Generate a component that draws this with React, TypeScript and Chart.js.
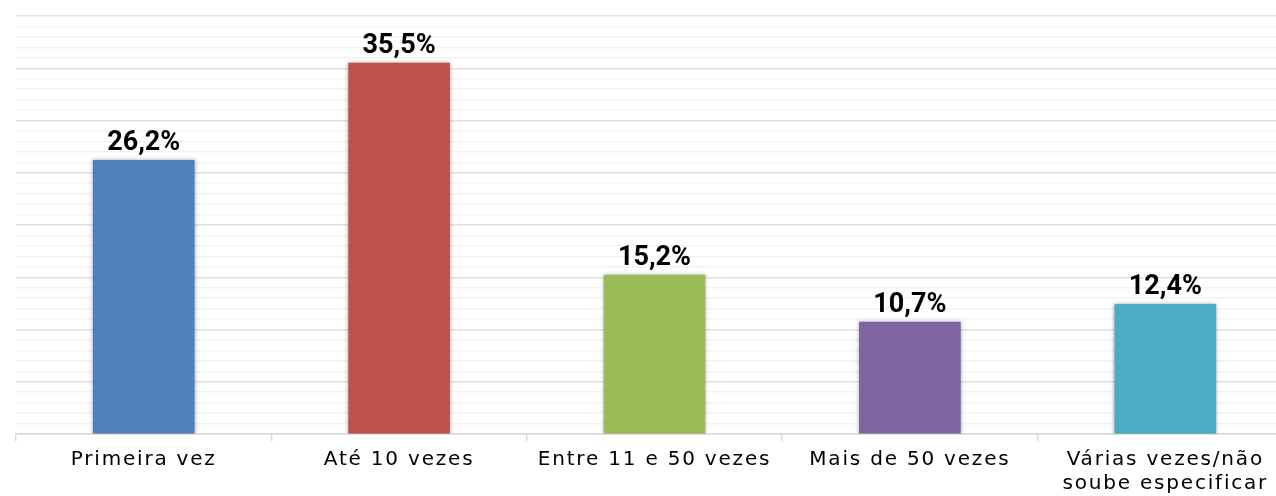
import React, { useEffect, useRef } from "react";
import { Chart, registerables } from "chart.js";

Chart.register(...registerables);

const categories: (string | string[])[] = [
  "Primeira vez",
  "Até 10 vezes",
  "Entre 11 e 50 vezes",
  "Mais de 50 vezes",
  ["Várias vezes/não", "soube especificar"],
];
const values: number[] = [26.2, 35.5, 15.2, 10.7, 12.4];
const valueLabels: string[] = ["26,2%", "35,5%", "15,2%", "10,7%", "12,4%"];
const barColors: string[] = ["#4F81BD", "#C0504D", "#9BBB59", "#8064A2", "#4BACC6"];

const letterSpacingPlugin = {
  id: "letterSpacing",
  beforeDraw(chart: any) {
    (chart.ctx as any).letterSpacing = "1.8px";
  },
  beforeDatasetsDraw(chart: any) {
    const ctx = chart.ctx;
    (ctx as any).letterSpacing = "0px";
    ctx.save();
    ctx.shadowColor = "rgba(0,0,0,0.35)";
    ctx.shadowBlur = 4;
    ctx.shadowOffsetX = 0;
    ctx.shadowOffsetY = 0;
  },
  afterDatasetsDraw(chart: any) {
    const ctx = chart.ctx;
    ctx.restore();
    const meta = chart.getDatasetMeta(0);
    ctx.save();
    ctx.font = "bold 27px Roboto";
    ctx.fillStyle = "#000000";
    ctx.textAlign = "center";
    ctx.textBaseline = "alphabetic";
    meta.data.forEach((bar: any, i: number) => {
      ctx.fillText(valueLabels[i], bar.x, bar.y - 10);
    });
    ctx.restore();
  },
};

export default function App() {
  const ref = useRef<HTMLCanvasElement>(null);
  useEffect(() => {
    document.body.style.margin = "0";
    document.body.style.overflow = "hidden";
    const canvas = ref.current!;
    const chart = new Chart(canvas, {
      type: "bar",
      data: {
        labels: categories,
        datasets: [
          {
            data: values,
            backgroundColor: barColors,
            borderWidth: 0,
            barThickness: 101,
          },
        ],
      },
      options: {
        responsive: false,
        animation: false,
        devicePixelRatio: 1,
        layout: { padding: { left: 16, right: 7, top: 16, bottom: 0 } },
        plugins: {
          legend: { display: false },
          tooltip: { enabled: false },
        },
        scales: {
          x: {
            offset: true,
            grid: {
              offset: true,
              drawOnChartArea: false,
              drawTicks: true,
              tickLength: 7,
              color: "#d9d9d9",
              lineWidth: 1.5,
            },
            border: { display: true, color: "#d9d9d9", width: 1.5 },
            ticks: {
              color: "#000000",
              padding: 7,
              maxRotation: 0,
              autoSkip: false,
              font: { family: "'DejaVu Sans'", size: 20, lineHeight: "24px" as any },
            },
          },
          y: {
            min: 0,
            max: 40,
            ticks: { display: false, stepSize: 1 },
            grid: {
              drawTicks: false,
              color: (c: any) => (c.tick && Math.round(c.tick.value) % 5 === 0 ? "#e0e0e0" : "#f3f3f3"),
              lineWidth: 1.5,
            },
            border: { display: false },
          },
        },
      },
      plugins: [letterSpacingPlugin],
    });
    return () => chart.destroy();
  }, []);
  return (
    <div style={{ width: 1276, height: 496, overflow: "hidden", position: "relative", background: "#fff" }}>
      <canvas ref={ref} width={1300} height={503} style={{ display: "block" }} />
    </div>
  );
}
